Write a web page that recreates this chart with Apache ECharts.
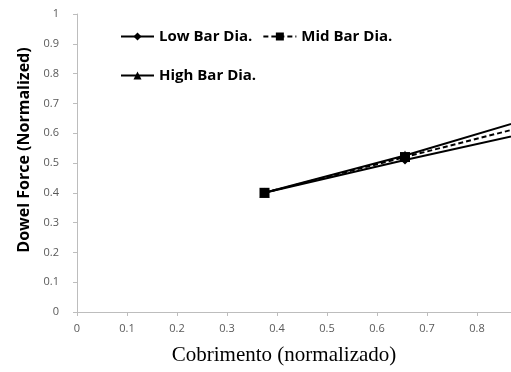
<!DOCTYPE html>
<html><head><meta charset="utf-8">
<script src="https://cdn.jsdelivr.net/npm/echarts@6/dist/echarts.min.js"></script>
<style>html,body{margin:0;padding:0;background:#fff}#c{width:511px;height:372px}</style>
</head><body><div id="c"></div>
<script>
const xCover = [0.375, 0.656, 0.937];
const lowBar = [0.40, 0.51, 0.615];
const midBar = [0.40, 0.52, 0.64];
const highBar = [0.40, 0.525, 0.665];
const xTicks = [0, 0.1, 0.2, 0.3, 0.4, 0.5, 0.6, 0.7, 0.8, 0.9, 1];
const yTicks = [0, 0.1, 0.2, 0.3, 0.4, 0.5, 0.6, 0.7, 0.8, 0.9, 1];
const seriesNames = ['Low Bar Dia.', 'Mid Bar Dia.', 'High Bar Dia.'];

const pair = (xs, ys) => xs.map((x, i) => [x, ys[i]]);
const chart = echarts.init(document.getElementById('c'));
const legendText = {fontFamily: 'Open Sans', fontWeight: 'bold', fontSize: 15, color: '#000'};
chart.setOption({
  animation: false,
  grid: {left: 77, top: 14, right: -66, bottom: 60, containLabel: false, outerBoundsMode: 'none'},
  xAxis: {
    type: 'value', min: 0, max: 1, interval: 0.1,
    name: 'Cobrimento (normalizado)', nameLocation: 'middle', nameGap: 33,
    nameTextStyle: {fontFamily: 'Liberation Serif', fontSize: 21, color: '#000', padding: [0, 86, 0, 0]},
    axisLine: {lineStyle: {color: '#bdbdbd', width: 1}},
    axisTick: {show: true, length: 4, lineStyle: {color: '#bdbdbd'}},
    axisLabel: {fontFamily: 'Open Sans', fontSize: 11, color: '#595959', margin: 11,
      formatter: v => xTicks.includes(+v.toFixed(1)) ? String(+v.toFixed(1)) : ''},
    splitLine: {show: false}
  },
  yAxis: {
    type: 'value', min: 0, max: 1, interval: 0.1,
    name: 'Dowel Force (Normalized)', nameLocation: 'middle', nameGap: 45,
    nameTextStyle: {fontFamily: 'Open Sans', fontWeight: 'bold', fontSize: 16, color: '#000', padding: [0, 0, 0, 26]},
    axisLine: {show: true, lineStyle: {color: '#bdbdbd', width: 1}},
    axisTick: {show: true, length: 4, lineStyle: {color: '#bdbdbd'}},
    axisLabel: {fontFamily: 'Open Sans', fontSize: 11, color: '#595959', margin: 18,
      formatter: v => yTicks.includes(+v.toFixed(1)) ? String(+v.toFixed(1)) : ''},
    splitLine: {show: false}
  },
  legend: [
    {data: [seriesNames[0], seriesNames[1]], left: 115, top: 24, itemWidth: 33, itemHeight: 10, itemGap: 10, textStyle: legendText},
    {data: [seriesNames[2]], left: 115, top: 63, itemWidth: 33, itemHeight: 10, textStyle: legendText}
  ],
  series: [
    {name: seriesNames[0], type: 'line', data: pair(xCover, lowBar), symbol: 'diamond', symbolSize: 9,
      lineStyle: {color: '#000', width: 2}, itemStyle: {color: '#000'}},
    {name: seriesNames[1], type: 'line', data: pair(xCover, midBar), symbol: 'rect', symbolSize: 10,
      lineStyle: {color: '#000', width: 2, type: [5, 3]}, itemStyle: {color: '#000'}},
    {name: seriesNames[2], type: 'line', data: pair(xCover, highBar), symbol: 'triangle', symbolSize: 10,
      lineStyle: {color: '#000', width: 2}, itemStyle: {color: '#000'}}
  ]
});
</script></body></html>
